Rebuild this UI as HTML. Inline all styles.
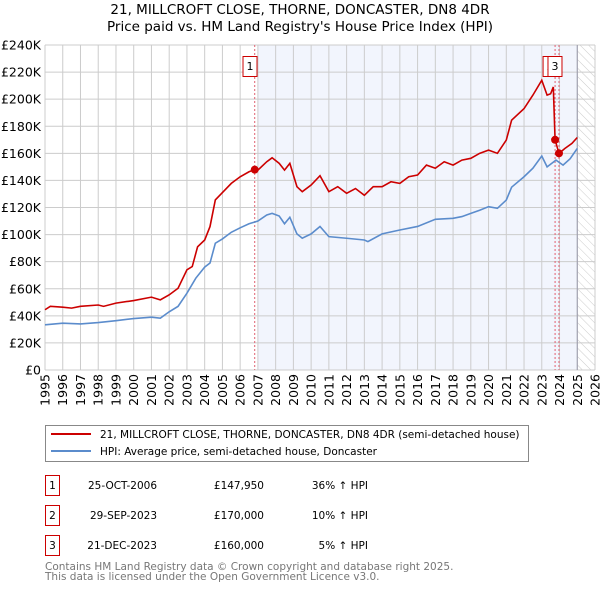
<!DOCTYPE html>
<html><head><meta charset="utf-8"><style>
body{margin:0;background:#fff;font-family:"DejaVu Sans","Liberation Sans",sans-serif;}
svg text{font-family:"DejaVu Sans","Liberation Sans",sans-serif;}
</style></head><body>
<svg id="chart" width="600" height="590" xmlns="http://www.w3.org/2000/svg">
<defs><pattern id="hatch" width="6" height="6" patternUnits="userSpaceOnUse" patternTransform="rotate(-45)"><line x1="0" y1="0" x2="0" y2="6" stroke="#ccc" stroke-width="1"/></pattern></defs>
<text x="300" y="14" text-anchor="middle" font-size="13.5">21, MILLCROFT CLOSE, THORNE, DONCASTER, DN8 4DR</text>
<text x="300" y="31" text-anchor="middle" font-size="13.5">Price paid vs. HM Land Registry's House Price Index (HPI)</text>
<g id="plot"></g>
<rect x="45.5" y="425.5" width="483" height="36" fill="#fff" stroke="#888"/>
<line x1="51" y1="434" x2="91" y2="434" stroke="#cc0000" stroke-width="2"/>
<text x="100" y="438" font-size="10.5">21, MILLCROFT CLOSE, THORNE, DONCASTER, DN8 4DR (semi-detached house)</text>
<line x1="51" y1="451" x2="91" y2="451" stroke="#5b8ccc" stroke-width="2"/>
<text x="100" y="455" font-size="10.5">HPI: Average price, semi-detached house, Doncaster</text>
<g font-size="10.5">
<rect x="45.5" y="475.5" width="14" height="20" fill="none" stroke="#cc0000"/><text x="52.5" y="489" text-anchor="middle">1</text>
<text x="157" y="489" text-anchor="end">25-OCT-2006</text><text x="264" y="489" text-anchor="end">£147,950</text><text x="368" y="489" text-anchor="end">36% ↑ HPI</text>
<rect x="45.5" y="505.5" width="14" height="20" fill="none" stroke="#cc0000"/><text x="52.5" y="519" text-anchor="middle">2</text>
<text x="157" y="519" text-anchor="end">29-SEP-2023</text><text x="264" y="519" text-anchor="end">£170,000</text><text x="368" y="519" text-anchor="end">10% ↑ HPI</text>
<rect x="45.5" y="535.5" width="14" height="20" fill="none" stroke="#cc0000"/><text x="52.5" y="549" text-anchor="middle">3</text>
<text x="157" y="549" text-anchor="end">21-DEC-2023</text><text x="264" y="549" text-anchor="end">£160,000</text><text x="368" y="549" text-anchor="end">5% ↑ HPI</text>
</g>
<text x="45" y="570" font-size="10.5" fill="#777">Contains HM Land Registry data © Crown copyright and database right 2025.</text>
<text x="45" y="580" font-size="10.5" fill="#777">This data is licensed under the Open Government Licence v3.0.</text>
</svg>
<script>
const hpiYears=[1995,1996,1997,1998,1999,2000,2001,2001.5,2002,2002.5,2003,2003.5,2004,2004.3,2004.6,2005,2005.5,2006,2006.5,2007,2007.5,2007.8,2008.2,2008.5,2008.8,2009.2,2009.5,2010,2010.5,2011,2012,2013,2013.2,2014,2015,2016,2017,2018,2018.5,2019,2019.5,2020,2020.5,2021,2021.3,2022,2022.5,2023,2023.3,2023.8,2024.2,2024.6,2025];
const hpiValues=[33.4,34.6,34,35,36.4,38,39,38.3,43,47,56.7,67.8,76,79,93.6,96.8,101.7,105,108,110,114.5,115.7,113.7,108,112.8,100.5,97.3,100.5,106,98.5,97.3,96,94.8,100.5,103.4,106,111.3,112,113.3,115.7,118,120.6,119.4,125.5,135,142.7,149,158,150,155,151.3,156,163.6];
const priceYears=[1995,1995.3,1996,1996.5,1997,1998,1998.3,1999,2000,2001,2001.5,2002,2002.5,2003,2003.3,2003.6,2004,2004.3,2004.6,2005,2005.5,2006,2006.5,2006.82,2007,2007.5,2007.8,2008.2,2008.5,2008.8,2009.2,2009.5,2010,2010.5,2011,2011.5,2012,2012.5,2013,2013.5,2014,2014.5,2015,2015.5,2016,2016.5,2017,2017.5,2018,2018.5,2019,2019.5,2020,2020.5,2021,2021.3,2022,2022.5,2023,2023.3,2023.5,2023.65,2023.75,2023.97,2024.3,2024.7,2025];
const priceValues=[44.5,47,46.4,45.7,47,48,47,49.4,51.3,53.8,51.8,55.5,60.4,74,76.4,91,96,105.9,125.6,131,137.8,142.7,146.4,148,147.6,153.8,156.7,152.6,147.6,152.6,135.4,131.7,136.6,143.5,131.7,135.4,130.5,134,129,135.4,135.4,139,137.8,142.7,144,151.3,149,153.8,151.3,155,156.3,160,162.4,160,169.8,184.5,193,203,214,203,204,209,170,160,163.6,167.3,171.7];
const saleYears=[2006.82,2023.75,2023.97];
const saleValues=[147.95,170,160];
const saleLabels=["1","2","3"];
const yTicks=[0,20,40,60,80,100,120,140,160,180,200,220,240];
const xTicks=[1995,1996,1997,1998,1999,2000,2001,2002,2003,2004,2005,2006,2007,2008,2009,2010,2011,2012,2013,2014,2015,2016,2017,2018,2019,2020,2021,2022,2023,2024,2025,2026];

const X0=45,X1=595,Y0=370,Y1=45;
const xs=y=>X0+(y-1995)/31*(X1-X0);
const ys=v=>Y0-v/240*(Y0-Y1);
const NS="http://www.w3.org/2000/svg";
const g=document.getElementById('plot');
function mk(t,a){const e=document.createElementNS(NS,t);for(const k in a)e.setAttribute(k,a[k]);g.appendChild(e);return e;}
let e;
e=mk('rect',{x:xs(2007),y:Y1,width:xs(2025)-xs(2007),height:Y0-Y1,fill:'#f2f5fd'});


e=mk('rect',{x:xs(2025),y:Y1,width:X1-xs(2025),height:Y0-Y1,fill:'url(#hatch)'});


yTicks.forEach(v=>{
 e=mk('line',{x1:X0,x2:X1,y1:ys(v),y2:ys(v),stroke:'#ccc','stroke-width':1});
 
 
 e=mk('text',{x:X0-4,y:ys(v)+4.5,'text-anchor':'end','font-size':'12.5'});
 e.textContent=v===0?'£0':'£'+v+'K';
 
 
});
xTicks.forEach(yr=>{
 e=mk('line',{x1:xs(yr),x2:xs(yr),y1:Y1,y2:Y0,stroke:'#ccc','stroke-width':1});
 
 
 e=mk('text',{x:xs(yr)+4.5,y:Y0+4,'text-anchor':'end','font-size':'12.5',transform:`rotate(-90 ${xs(yr)+4.5} ${Y0+4})`});
 e.textContent=yr;
 
 
});
e=mk('line',{x1:xs(2025),x2:xs(2025),y1:Y1,y2:Y0,stroke:'#99a','stroke-width':1});


saleYears.forEach(yr=>{
 e=mk('line',{x1:xs(yr),x2:xs(yr),y1:Y1,y2:Y0,stroke:'#e06070','stroke-width':1,'stroke-dasharray':'2,2'});
 
 
});
e=mk('polyline',{points:hpiYears.map((y,i)=>xs(y)+','+ys(hpiValues[i])).join(' '),fill:'none',stroke:'#5b8ccc','stroke-width':1.6});


e=mk('polyline',{points:priceYears.map((y,i)=>xs(y)+','+ys(priceValues[i])).join(' '),fill:'none',stroke:'#cc0000','stroke-width':1.6});


saleYears.forEach((yr,i)=>{
 e=mk('circle',{cx:xs(yr),cy:ys(saleValues[i]),r:4,fill:'#cc0000'});
 
 
});
const boxOff=[-4.7,-5,-4];
saleYears.forEach((yr,i)=>{
 const bx=xs(yr)+boxOff[i]-7;
 e=mk('rect',{x:bx,y:56.5,width:14,height:20,fill:'#fff',stroke:'#cc0000'});
 
 
 e=mk('text',{x:bx+7,y:70,'text-anchor':'middle','font-size':'11'});
 e.textContent=saleLabels[i];
 
 
});
</script>
</body></html>
